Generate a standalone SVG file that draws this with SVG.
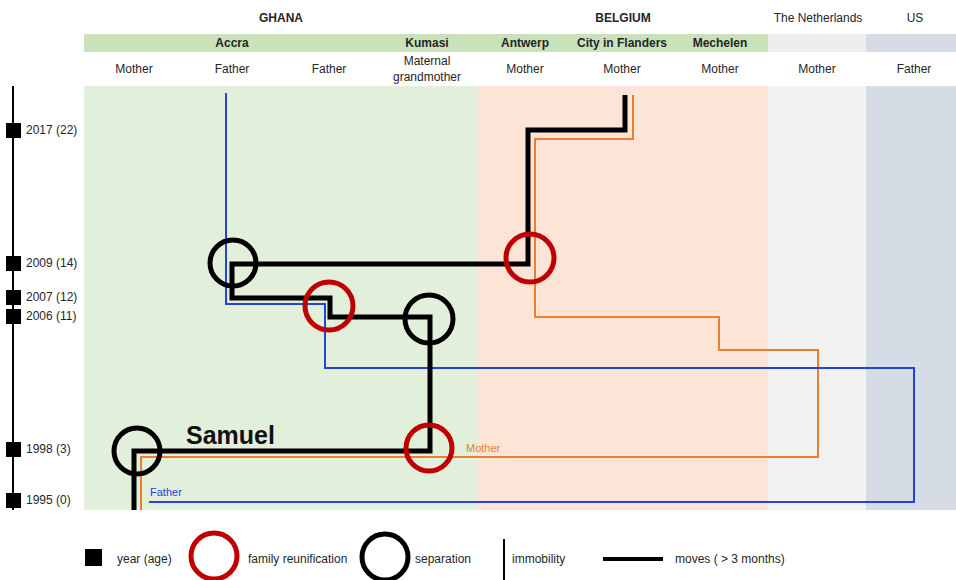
<svg xmlns="http://www.w3.org/2000/svg" width="956" height="580" viewBox="0 0 956 580">
<style>
text{font-family:"Liberation Sans",Arial,sans-serif;fill:#262626;}
.cty{font-size:12px;font-weight:bold;text-anchor:middle;}
.ctry{font-size:12px;text-anchor:middle;}
.col{font-size:12px;text-anchor:middle;}
.yr{font-size:12px;}
.lg{font-size:12px;}
.sep{fill:none;stroke:#000;stroke-width:5;}
.reu{fill:none;stroke:#c00000;stroke-width:5;}
.blk{fill:none;stroke:#000;stroke-width:5;stroke-linejoin:miter;}
.org{fill:none;stroke:#ed7d31;stroke-width:2;}
.blu{fill:none;stroke:#2343e0;stroke-width:2;}
</style>
<rect x="0" y="0" width="956" height="580" fill="#ffffff"/>
<g id="background">
<rect x="84" y="34" width="684" height="18" fill="#c9e2b9"/>
<rect x="768" y="34" width="98" height="18" fill="#eeeeee"/>
<rect x="866" y="34" width="90" height="18" fill="#d6dce5"/>
<rect x="84" y="86" width="393" height="424" fill="#e2efda"/>
<rect x="477" y="86" width="291" height="424" fill="#fce4d6"/>
<rect x="768" y="86" width="98" height="424" fill="#f2f2f2"/>
<rect x="866" y="86" width="90" height="424" fill="#d6dce5"/>
</g>
<g id="headers">
<text class="cty" x="281" y="22">GHANA</text>
<text class="cty" x="623" y="22">BELGIUM</text>
<text class="ctry" x="818" y="22">The Netherlands</text>
<text class="ctry" x="915" y="22">US</text>
<text class="cty" x="232" y="47">Accra</text>
<text class="cty" x="427" y="47">Kumasi</text>
<text class="cty" x="525" y="47">Antwerp</text>
<text class="cty" x="622" y="47">City in Flanders</text>
<text class="cty" x="720" y="47">Mechelen</text>
<text class="col" x="134" y="73">Mother</text>
<text class="col" x="232" y="73">Father</text>
<text class="col" x="329" y="73">Father</text>
<text class="col" x="427" y="65">Maternal</text>
<text class="col" x="427" y="81">grandmother</text>
<text class="col" x="525" y="73">Mother</text>
<text class="col" x="622" y="73">Mother</text>
<text class="col" x="720" y="73">Mother</text>
<text class="col" x="817" y="73">Mother</text>
<text class="col" x="914" y="73">Father</text>
</g>
<g id="axis">
<line x1="13" y1="86" x2="13" y2="510" stroke="#000" stroke-width="2"/>
<rect x="6" y="123" width="15" height="15" fill="#000"/>
<rect x="6" y="256" width="15" height="15" fill="#000"/>
<rect x="6" y="290" width="15" height="15" fill="#000"/>
<rect x="6" y="309" width="15" height="15" fill="#000"/>
<rect x="6" y="442" width="15" height="15" fill="#000"/>
<rect x="6" y="493" width="15" height="15" fill="#000"/>
<text class="yr" x="26" y="134">2017 (22)</text>
<text class="yr" x="26" y="267">2009 (14)</text>
<text class="yr" x="26" y="301">2007 (12)</text>
<text class="yr" x="26" y="320">2006 (11)</text>
<text class="yr" x="26" y="453">1998 (3)</text>
<text class="yr" x="26" y="504">1995 (0)</text>
</g>
<g id="connectors">
<polyline id="mother-path" class="org" points="633,95 633,139 535,139 535,317 719,317 719,350 818,350 818,457 141,457 141,510"/>
<polyline id="father-path" class="blu" points="226,93 226,304 325,304 325,368 914,368 914,502 149,502"/>
<polyline id="samuel-path" class="blk" points="134,510 134,451 430,451 430,317 330,317 330,298 232,298 232,264 528,264 528,130 625,130 625,95"/>
</g>
<g id="labels">
<text x="186" y="444" style="font-size:25px;font-weight:bold;fill:#111">Samuel</text>
<text x="466" y="452" style="font-size:11px;fill:#ed7d31">Mother</text>
<text x="150" y="496" style="font-size:11px;fill:#2343e0">Father</text>
</g>
<g id="sep-1998"><circle class="sep" cx="137" cy="451" r="23"/></g>
<g id="reu-1998"><circle class="reu" cx="429" cy="448" r="23"/></g>
<g id="sep-2006"><circle class="sep" cx="429" cy="319" r="24"/></g>
<g id="reu-2007"><circle class="reu" cx="329" cy="306" r="24"/></g>
<g id="sep-2009"><circle class="sep" cx="233" cy="263" r="23"/></g>
<g id="reu-2009"><circle class="reu" cx="530" cy="258" r="24"/></g>
<g id="legend">
<rect x="85" y="549" width="17" height="17" fill="#000"/>
<text class="lg" x="117" y="563">year (age)</text>
<circle class="reu" cx="214" cy="556" r="23"/>
<text class="lg" x="248" y="563">family reunification</text>
<circle class="sep" cx="385" cy="557" r="23"/>
<text class="lg" x="415" y="563">separation</text>
<line x1="504" y1="539" x2="504" y2="580" stroke="#000" stroke-width="2"/>
<text class="lg" x="512" y="563">immobility</text>
<line x1="603" y1="559" x2="663" y2="559" stroke="#000" stroke-width="4"/>
<text class="lg" x="675" y="563">moves ( &gt; 3 months)</text>
</g>
</svg>
